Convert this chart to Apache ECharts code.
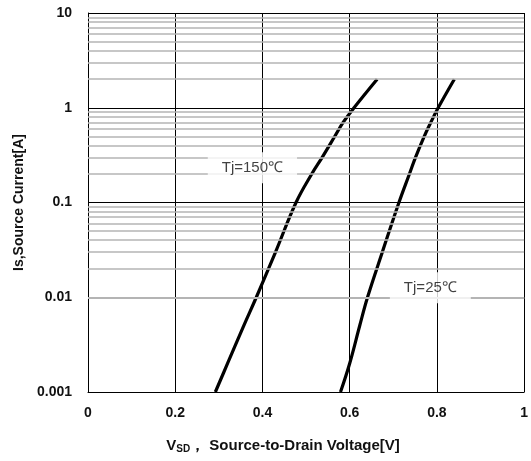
<!DOCTYPE html>
<html>
<head>
<meta charset="utf-8">
<script src="https://cdn.jsdelivr.net/npm/echarts@6/dist/echarts.min.js"></script>
<style>html,body{margin:0;padding:0;background:#fff}#c{width:531px;height:461px}</style>
</head>
<body>
<div id="c"></div>
<script>
// Data (Vsd [V], Is [A])
var tj150Vsd = [0.292, 0.320, 0.357, 0.386, 0.430, 0.477, 0.513, 0.537, 0.566, 0.585, 0.610, 0.663];
var tj150Is  = [0.001, 0.002, 0.005, 0.01, 0.03, 0.1, 0.2, 0.3, 0.5, 0.7, 1, 2];
var tj25Vsd  = [0.579, 0.600, 0.623, 0.641, 0.675, 0.713, 0.737, 0.751, 0.771, 0.786, 0.803, 0.840];
var tj25Is   = [0.001, 0.002, 0.005, 0.01, 0.03, 0.1, 0.2, 0.3, 0.5, 0.7, 1, 2];
var xTicks = ['0', '0.2', '0.4', '0.6', '0.8', '1'];
var yTicks = ['0.001', '0.01', '0.1', '1', '10'];
var curveLabels = ['Tj=150\u2103', 'Tj=25\u2103'];
var labelPos = [[0.377, 0.233], [0.785, 0.0126]];
var decades = [0.001, 0.01, 0.1, 1];
var minorMultipliers = [2, 3, 4, 5, 6, 7, 8, 9];

var minorLines = [];
decades.forEach(function (d) {
  minorMultipliers.forEach(function (m) {
    minorLines.push({ yAxis: +(d * m).toPrecision(3) });
  });
});

function pairs(xs, ys) { return xs.map(function (x, i) { return [x, ys[i]]; }); }

var font = 'Liberation Sans, Arial, sans-serif';
var chart = echarts.init(document.getElementById('c'), null, { renderer: 'canvas' });
chart.setOption({
  animation: false,
  backgroundColor: '#fff',
  grid: { left: 88, right: 5, top: 13, bottom: 69, containLabel: false },
  xAxis: {
    type: 'value', min: 0, max: 1, interval: 0.2,
    axisLine: { show: true, lineStyle: { color: '#000', width: 1 } },
    axisTick: { show: false },
    axisLabel: {
      margin: 14, color: '#111', fontFamily: font, fontWeight: 'bold', fontSize: 14,
      formatter: function (v) { return xTicks[Math.round(v / 0.2)]; }
    },
    splitLine: { show: true, lineStyle: { color: '#000', width: 1 } },
    name: '{v|V}{s|SD}{n|\uff0c Source-to-Drain Voltage[V]}',
    nameLocation: 'middle', nameGap: 45,
    nameTextStyle: {
      padding: [0, 46, 0, 0],
      rich: {
        v: { fontFamily: font, fontWeight: 'bold', fontSize: 15, color: '#111' },
        s: { fontFamily: font, fontWeight: 'bold', fontSize: 10, color: '#111', verticalAlign: 'bottom', padding: [7, 0, 0, 0] },
        n: { fontFamily: font, fontWeight: 'bold', fontSize: 15, color: '#111' }
      }
    }
  },
  yAxis: {
    type: 'log', logBase: 10, min: 0.001, max: 10,
    axisLine: { show: true, lineStyle: { color: '#000', width: 1 } },
    axisTick: { show: false },
    axisLabel: {
      margin: 16, color: '#111', fontFamily: font, fontWeight: 'bold', fontSize: 14,
      formatter: function (v) { return yTicks[Math.round(Math.log10(v)) + 3]; }
    },
    splitLine: { show: true, lineStyle: { color: '#000', width: 1 } },
    name: 'Is,Source Current[A]',
    nameLocation: 'middle', nameGap: 60,
    nameTextStyle: { fontFamily: font, fontWeight: 'bold', fontSize: 14, color: '#111' }
  },
  series: [
    {
      type: 'line', data: [], silent: true, z: 1,
      markLine: {
        silent: true, symbol: ['none', 'none'], label: { show: false },
        lineStyle: { color: '#b4b4b4', width: 1.5, type: 'solid' },
        emphasis: { disabled: true },
        data: minorLines
      }
    },
    {
      type: 'line', data: pairs(tj150Vsd, tj150Is), smooth: 0.4, showSymbol: false, z: 3,
      lineStyle: { color: '#000', width: 3.2 }
    },
    {
      type: 'line', data: pairs(tj25Vsd, tj25Is), smooth: 0.4, showSymbol: false, z: 3,
      lineStyle: { color: '#000', width: 3.2 }
    },
    {
      type: 'scatter', z: 5, symbolSize: 0,
      data: labelPos.map(function (p, i) { return { value: p, name: curveLabels[i] }; }),
      label: {
        show: true, position: 'inside', formatter: '{b}',
        fontFamily: font, fontSize: 15, color: '#111',
        backgroundColor: '#fff', padding: [8, 14, 8, 14]
      }
    }
  ]
});
</script>
</body>
</html>
